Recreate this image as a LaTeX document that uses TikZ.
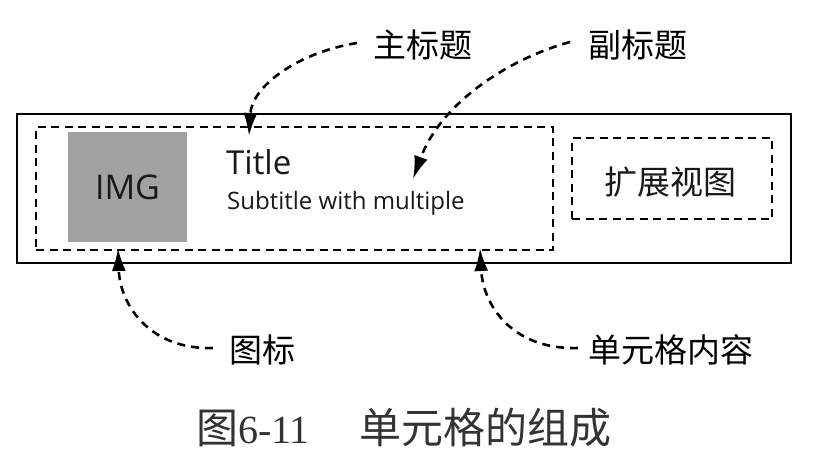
\documentclass[tikz,border=0pt]{standalone}
\usepackage{fontspec}
\setmainfont{Liberation Serif}
\newfontfamily\cjksans{Noto Sans CJK SC}
\newfontfamily\latsans{Open Sans}
\usetikzlibrary{arrows.meta}
\definecolor{imggray}{RGB}{162,162,162}
\tikzset{
  dashbox/.style={draw=black, line width=2.6pt, dash pattern=on 8pt off 5.5pt},
  callout/.style={draw=black, line width=2.6pt, dash pattern=on 8pt off 6pt,
    -{Latex[length=23pt,width=14pt]}},
  lbl/.style={font=\cjksans\fontsize{33}{36}\selectfont, inner sep=0pt},
}
\begin{document}
\begin{tikzpicture}[x=1pt,y=-1pt]
\useasboundingbox (0,0) rectangle (820,456);
% outer cell
\node (outer) [draw=black, line width=2.6pt, minimum width=774pt, minimum height=149pt, inner sep=0pt] at (404,188.5) {};
% content box
\node (content) [dashbox, minimum width=517pt, minimum height=123pt, inner sep=0pt] at (294.5,188.5) {};
% image
\node (img) [fill=imggray, minimum width=119pt, minimum height=110pt, inner sep=0pt,
  font=\latsans\fontsize{34}{38}\selectfont, text=black!90] at (127.5,187) {IMG};
% title and subtitle
\node (title) [anchor=base west, inner sep=0pt, font=\latsans\fontsize{33}{36}\selectfont, text=black!90] at (226,174) {Title};
\node (subtitle) [anchor=base west, inner sep=0pt, font=\latsans\fontsize{24}{28}\selectfont, text=black!90] at (227,209) {Subtitle with multiple};
% extension view
\node (ext) [dashbox, minimum width=200pt, minimum height=81pt, inner sep=0pt] at (672,178.5) {};
\node (exttext) [lbl, text=black!90] at (670,182) {扩展视图};
% labels
\node (lmain) [lbl, anchor=west] at (373,45) {主标题};
\node (lsub) [lbl, anchor=west] at (588,45) {副标题};
\node (licon) [lbl, anchor=west] at (229,350) {图标};
\node (lcont) [lbl, anchor=west] at (588,350) {单元格内容};
% arrow targets
\coordinate (tmain) at (249,136);
\coordinate (tsub) at (413,179);
\coordinate (ticon) at (118,248);
\coordinate (tcont) at (480,248);
% callouts
\draw[callout] ([xshift=-16pt,yshift=2pt]lmain.west) .. controls (300,52) and (252,85) .. (tmain);
\draw[callout] ([xshift=-18pt,yshift=3pt]lsub.west) .. controls (505,60) and (440,105) .. (tsub);
\draw[callout] ([xshift=-16pt,yshift=2pt]licon.west) .. controls (150,350) and (120,305) .. (ticon);
\draw[callout] ([xshift=-10pt,yshift=2pt]lcont.west) .. controls (512,350) and (483,305) .. (tcont);
% caption
\node (caption) [inner sep=0pt, text=black!80] at (404,428)
  {{\cjksans\fontsize{42}{46}\selectfont 图}{\fontsize{40}{46}\selectfont 6-11}\hspace{50pt}{\cjksans\fontsize{42}{46}\selectfont 单元格的组成}};
\end{tikzpicture}
\end{document}
